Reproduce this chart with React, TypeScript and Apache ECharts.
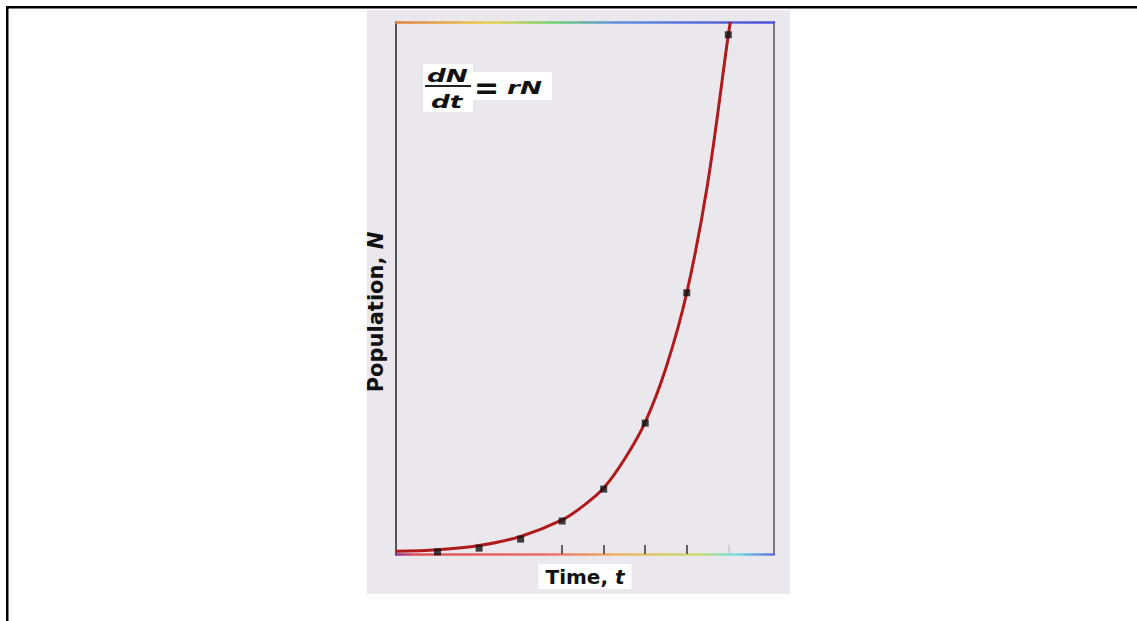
import React, { useEffect, useRef } from "react";
import * as echarts from "echarts";

// Time steps of the observed points
const pointTimes = [1, 2, 3, 4, 5, 6, 7, 8];
// Observed population values (axis scale 0..1000)
const pointValues = [4, 11, 28, 62, 122, 246, 491, 976];

// Fitted exponential curve
const curveTimes = [0, 1, 2, 3, 4, 4.5, 5, 5.5, 6, 6.5, 7, 7.5, 8, 8.05];
const curveValues = [5, 8, 16, 33, 64, 90, 124, 178, 248, 350, 491, 695, 976, 1000];

// Tick positions on the time axis (visible ones)
const tickTimes = [4, 5, 6, 7];
const faintTickTimes = [8];

const xName = "Time, ";
const xVar = "t";
const yName = "Population, ";
const yVar = "N";

export default function App() {
  const ref = useRef<HTMLDivElement>(null);

  useEffect(() => {
    if (!ref.current) return;
    const chart = echarts.init(ref.current, undefined, { renderer: "svg" });

    const gridLeft = 396;
    const gridTop = 22;
    const gridW = 378;
    const gridH = 532;

    const bottomGrad = new echarts.graphic.LinearGradient(
      gridLeft, 0, gridLeft + gridW, 0,
      [
        { offset: 0, color: "#8a2a9a" },
        { offset: 0.05, color: "#e0505a" },
        { offset: 0.4, color: "#e8706a" },
        { offset: 0.58, color: "#f0b060" },
        { offset: 0.8, color: "#c8e070" },
        { offset: 0.9, color: "#70e0e0" },
        { offset: 1, color: "#6070e0" },
      ],
      true
    );
    const topGrad = new echarts.graphic.LinearGradient(
      gridLeft, 0, gridLeft + gridW, 0,
      [
        { offset: 0, color: "#e08040" },
        { offset: 0.25, color: "#e8d050" },
        { offset: 0.42, color: "#70d070" },
        { offset: 0.58, color: "#6090e0" },
        { offset: 1, color: "#5050d8" },
      ],
      true
    );

    const hiddenAxisBits = {
      axisLabel: { show: false },
      splitLine: { show: false },
    };

    const option: any = {
      animation: false,
      backgroundColor: "#ffffff",
      grid: { left: gridLeft, top: gridTop, width: gridW, height: gridH, containLabel: false },
      xAxis: [
        {
          type: "value",
          min: 0,
          max: 9.1,
          position: "bottom",
          axisLine: { show: true, onZero: false, lineStyle: { color: bottomGrad, width: 2.5 } },
          axisTick: {
            show: true,
            inside: true,
            length: 9,
            customValues: tickTimes,
            lineStyle: { color: "#333", width: 1.5 },
          },
          ...hiddenAxisBits,
          name: xName + "{i|" + xVar + "}",
          nameLocation: "middle",
          nameGap: 10,
          nameTextStyle: {
            fontFamily: "DejaVu Sans",
            fontWeight: "bold",
            fontSize: 20,
            color: "#111",
            backgroundColor: "#ffffff",
            padding: [3, 7, 2, 7],
            verticalAlign: "top",
            rich: {
              i: { fontFamily: "DejaVu Sans", fontWeight: "bold", fontStyle: "italic", fontSize: 20, color: "#111" },
            },
          },
        },
        {
          type: "value",
          min: 0,
          max: 9.1,
          position: "top",
          axisLine: { show: true, onZero: false, lineStyle: { color: topGrad, width: 2.5 } },
          axisTick: { show: false },
          ...hiddenAxisBits,
        },
        {
          type: "value",
          min: 0,
          max: 9.1,
          position: "bottom",
          axisLine: { show: false, onZero: false },
          axisTick: {
            show: true,
            inside: true,
            length: 9,
            customValues: faintTickTimes,
            lineStyle: { color: "#c8c8c8", width: 1.5 },
          },
          ...hiddenAxisBits,
        },
      ],
      yAxis: [
        {
          type: "value",
          min: 0,
          max: 1000,
          position: "left",
          axisLine: { show: true, onZero: false, lineStyle: { color: "#555", width: 2 } },
          axisTick: { show: false },
          ...hiddenAxisBits,
        },
        {
          type: "value",
          min: 0,
          max: 1000,
          position: "right",
          axisLine: { show: true, onZero: false, lineStyle: { color: "#7a7a7a", width: 2 } },
          axisTick: { show: false },
          ...hiddenAxisBits,
        },
      ],
      series: [
        {
          type: "line",
          xAxisIndex: 0,
          yAxisIndex: 0,
          data: curveTimes.map((t, i) => [t, curveValues[i]]),
          smooth: 0.35,
          showSymbol: false,
          clip: true,
          lineStyle: { color: "#b01a1a", width: 3 },
          z: 2,
        },
        {
          type: "scatter",
          xAxisIndex: 0,
          yAxisIndex: 0,
          data: pointTimes.map((t, i) => [t, pointValues[i]]),
          symbol: "rect",
          symbolSize: 7,
          itemStyle: { color: "#111" },
          z: 3,
        },
      ],
      graphic: [
        // outer frame lines
        { type: "rect", z: 100, shape: { x: 6, y: 6, width: 1131, height: 2.5 }, style: { fill: "#000" } },
        { type: "rect", z: 100, shape: { x: 6, y: 6, width: 2.5, height: 615 }, style: { fill: "#000" } },
        // panel background
        { type: "rect", z: -100, shape: { x: 367, y: 10, width: 423, height: 584 }, style: { fill: "#ebe8ed" } },
        // y axis name
        {
          type: "text",
          z: 50,
          x: 376,
          y: 312,
          rotation: Math.PI / 2,
          style: {
            text: yName + "{i|" + yVar + "}",
            fontFamily: "DejaVu Sans",
            fontWeight: "bold",
            fontSize: 21,
            fill: "#111",
            align: "center",
            verticalAlign: "middle",
            rich: {
              i: { fontFamily: "DejaVu Sans", fontWeight: "bold", fontStyle: "italic", fontSize: 21, fill: "#111" },
            },
          },
        },
        // equation backgrounds
        { type: "rect", z: 50, shape: { x: 423, y: 64, width: 50, height: 48 }, style: { fill: "#fff" } },
        { type: "rect", z: 50, shape: { x: 472, y: 72, width: 80, height: 28 }, style: { fill: "#fff" } },
        {
          type: "text", z: 51, x: 427, y: 84, scaleX: 1.55,
          style: { text: "dN", fontFamily: "DejaVu Sans", fontWeight: "bold", fontStyle: "italic", fontSize: 17, fill: "#111", align: "left", verticalAlign: "bottom" },
        },
        { type: "rect", z: 51, shape: { x: 425, y: 85, width: 46, height: 2 }, style: { fill: "#222" } },
        {
          type: "text", z: 51, x: 431, y: 93, scaleX: 1.55,
          style: { text: "dt", fontFamily: "DejaVu Sans", fontWeight: "bold", fontStyle: "italic", fontSize: 17, fill: "#111", align: "left", verticalAlign: "top" },
        },
        {
          type: "text", z: 51, x: 474, y: 87,
          style: { text: "=", fontFamily: "DejaVu Sans", fontWeight: "bold", fontSize: 30, fill: "#111", align: "left", verticalAlign: "middle" },
        },
        {
          type: "text", z: 51, x: 507, y: 88, scaleX: 1.55,
          style: { text: "rN", fontFamily: "DejaVu Sans", fontWeight: "bold", fontStyle: "italic", fontSize: 17, fill: "#111", align: "left", verticalAlign: "middle" },
        },
      ],
    };

    chart.setOption(option);
    return () => chart.dispose();
  }, []);

  return (
    <div
      ref={ref}
      style={{ position: "fixed", left: 0, top: 0, width: 1137, height: 621 }}
    />
  );
}
